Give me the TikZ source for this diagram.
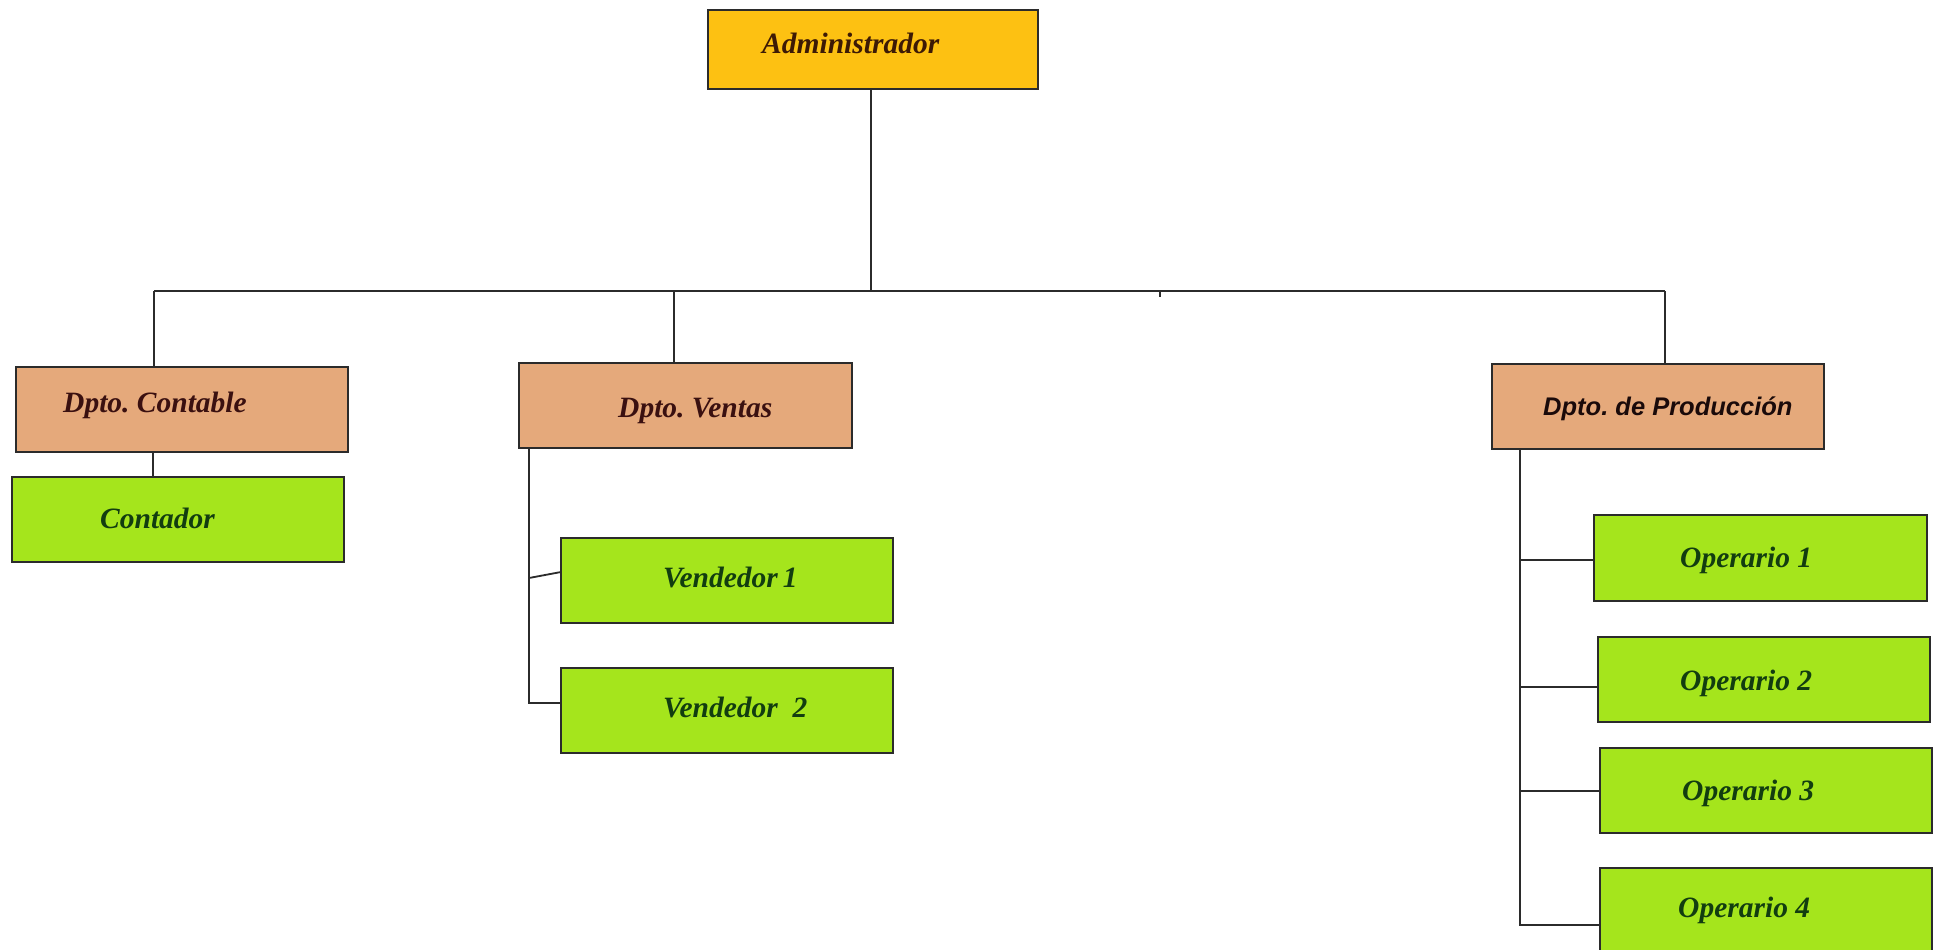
\documentclass[tikz,border=0pt]{standalone}
\usepackage{fontspec}
\setmainfont{Liberation Serif}
\newfontfamily\arialfont{Liberation Sans}
\frenchspacing
\definecolor{admfill}{HTML}{FDC112}
\definecolor{dptfill}{HTML}{E5A97B}
\definecolor{empfill}{HTML}{A5E51C}
\definecolor{edge}{HTML}{2B2B2B}
\definecolor{admink}{HTML}{3D1A05}
\definecolor{dptink}{HTML}{3A1010}
\definecolor{empink}{HTML}{123D10}
\definecolor{prodink}{HTML}{1A0A0A}
\tikzset{
  box/.style={draw=edge, line width=1.8pt, rectangle, inner sep=0pt, outer sep=0pt,
    minimum width=332pt, minimum height=85pt},
  admbox/.style={box, fill=admfill, minimum width=330pt, minimum height=79pt},
  dptbox/.style={box, fill=dptfill},
  empbox/.style={box, fill=empfill},
  lbl/.style={anchor=base west, inner sep=0pt, font=\fontsize{29.5}{35}\selectfont\bfseries\itshape},
  admlbl/.style={lbl, text=admink},
  dptlbl/.style={lbl, text=dptink},
  emplbl/.style={lbl, text=empink},
  prodlbl/.style={anchor=base west, inner sep=0pt, text=prodink,
    font=\arialfont\fontsize{25.5}{30}\selectfont\bfseries\itshape},
  wire/.style={draw=edge, line width=1.8pt}
}
\begin{document}
\begin{tikzpicture}[x=1pt, y=-1pt]
\useasboundingbox[fill=white] (0,0) rectangle (1935,950);

% boxes
\node[admbox] (adm) at (873,49.5) {};
\node[dptbox] (cont) at (182,409.5) {};
\node[empbox] (contador) at (178,519.5) {};
\node[dptbox, minimum width=333pt] (ventas) at (685.5,405.5) {};
\node[empbox] (vend1) at (727,580.5) {};
\node[empbox] (vend2) at (727,710.5) {};
\node[dptbox] (prod) at (1658,406.5) {};
\node[empbox, minimum width=333pt, minimum height=86pt] (op1) at (1760.5,558) {};
\node[empbox] (op2) at (1764,679.5) {};
\node[empbox] (op3) at (1766,790.5) {};
\node[empbox] (op4) at (1766,910.5) {};

% labels
\node[admlbl] (adm-t) at (762,53) {Administrador};
\node[dptlbl] (cont-t) at (63,412) {Dpto. Contable};
\node[emplbl] (contador-t) at (100,528) {Contador};
\node[dptlbl] (ventas-t) at (618,417) {Dpto. Ventas};
\node[emplbl] (vend1-t) at (663,587) {Vendedor\,1};
\node[emplbl] (vend2-t) at (663,717) {Vendedor\ \ 2};
\node[prodlbl] (prod-t) at (1543,415) {Dpto. de Producción};
\node[emplbl] (op1-t) at (1680,567) {Operario 1};
\node[emplbl] (op2-t) at (1680,690) {Operario 2};
\node[emplbl] (op3-t) at (1682,800) {Operario 3};
\node[emplbl] (op4-t) at (1678,917) {Operario 4};

% main bus
\coordinate (busL) at (154,291);
\coordinate (busV) at (674,291);
\coordinate (busR) at (1665,291);
\coordinate (busTop) at (871,291);
\draw[wire] (adm.south -| busTop) -- (busTop);
\draw[wire] (busL) -- (busR);
\draw[wire] (1160,291) -- (1160,297);
\draw[wire] (busL) -- (busL |- cont.north);
\draw[wire] (busV) -- (busV |- ventas.north);
\draw[wire] (busR) -- (busR |- prod.north);

% accounting
\draw[wire] ([xshift=-29pt]cont.south) -- ([xshift=-25pt]contador.north);

% sales
\coordinate (vsp) at ([xshift=-156.5pt]ventas.south);
\coordinate (vj1) at (529,578);
\coordinate (vb1) at ([yshift=8.5pt]vend1.west);
\coordinate (vb2) at ([yshift=7.5pt]vend2.west);
\draw[wire] (vsp) -- (vsp |- vb2) -- (vb2);
\draw[wire] (vj1) -- (vb1);

% production
\coordinate (psp) at ([xshift=-138pt]prod.south);
\coordinate (pb1) at ([yshift=-2pt]op1.west);
\coordinate (pb2) at ([yshift=-7.5pt]op2.west);
\coordinate (pb3) at ([yshift=-0.5pt]op3.west);
\coordinate (pb4) at ([yshift=-14.5pt]op4.west);
\draw[wire] (psp) -- (psp |- pb4) -- (pb4);
\draw[wire] (psp |- pb1) -- (pb1);
\draw[wire] (psp |- pb2) -- (pb2);
\draw[wire] (psp |- pb3) -- (pb3);
\end{tikzpicture}
\end{document}
